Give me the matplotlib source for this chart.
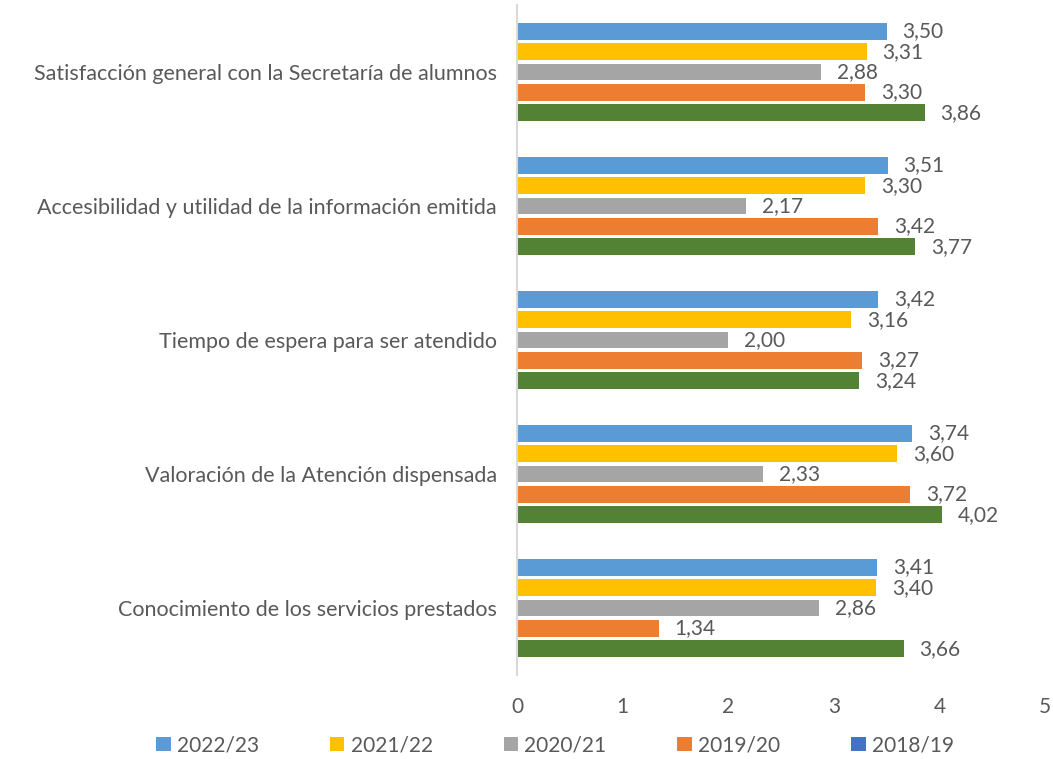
import matplotlib
matplotlib.use("Agg")
import matplotlib.pyplot as plt
from matplotlib.patches import Patch

plt.rcParams['font.family'] = ['Lato', 'DejaVu Sans']

categories = [
    "Satisfacción general con la Secretaría de alumnos",
    "Accesibilidad y utilidad de la información emitida",
    "Tiempo de espera para ser atendido",
    "Valoración de la Atención dispensada",
    "Conocimiento de los servicios prestados",
]
series_names = ["2022/23", "2021/22", "2020/21", "2019/20", "2018/19"]
v2022 = [3.50, 3.51, 3.42, 3.74, 3.41]
v2021 = [3.31, 3.30, 3.16, 3.60, 3.40]
v2020 = [2.88, 2.17, 2.00, 2.33, 2.86]
v2019 = [3.30, 3.42, 3.27, 3.72, 1.34]
v2018 = [3.86, 3.77, 3.24, 4.02, 3.66]
series_values = [v2022, v2021, v2020, v2019, v2018]
bar_colors = ["#5B9BD5", "#FFC000", "#A5A5A5", "#ED7D31", "#548235"]
legend_colors = ["#5B9BD5", "#FFC000", "#A5A5A5", "#ED7D31", "#4472C4"]
xticks = [0, 1, 2, 3, 4, 5]

txt = "#595959"
fig = plt.figure(figsize=(10.53, 7.59), dpi=100)
ax = fig.add_axes([0.491, 0.1107, 0.5014, 0.8827])

pitch = 0.152
h = 0.125
for j, (vals, col) in enumerate(zip(series_values, bar_colors)):
    ys = [i + 0.5 + (j - 2) * pitch for i in range(len(categories))]
    ax.barh(ys, vals, height=h, color=col, zorder=2)
    for y, v in zip(ys, vals):
        ax.annotate(f"{v:.2f}".replace(".", ","), (v, y), xytext=(11.5, 0),
                    textcoords="offset points", ha="left", va="center",
                    fontsize=15, color=txt)

ax.set_xlim(0, 5)
ax.set_ylim(5, 0)
ax.set_xticks(xticks)
ax.set_xticklabels([str(t) for t in xticks])
ax.set_yticks([i + 0.5 for i in range(len(categories))])
ax.set_yticklabels(categories, fontsize=15.5)
ax.tick_params(axis='both', length=0, colors=txt)
ax.tick_params(axis='x', labelsize=15, pad=16)
ax.tick_params(axis='y', pad=14.4)
for s in ['top', 'right', 'bottom']:
    ax.spines[s].set_visible(False)
ax.spines['left'].set_color("#D9D9D9")
ax.spines['left'].set_linewidth(1.5)

handles = [Patch(facecolor=c, edgecolor='none') for c in legend_colors]
fig.legend(handles, series_names, loc='center', bbox_to_anchor=(0.527, 0.018),
           ncol=5, frameon=False, fontsize=15, labelcolor=txt,
           handlelength=0.7, handleheight=0.7, handletextpad=0.3, columnspacing=3.4)

fig.savefig("out.png", dpi=100)
